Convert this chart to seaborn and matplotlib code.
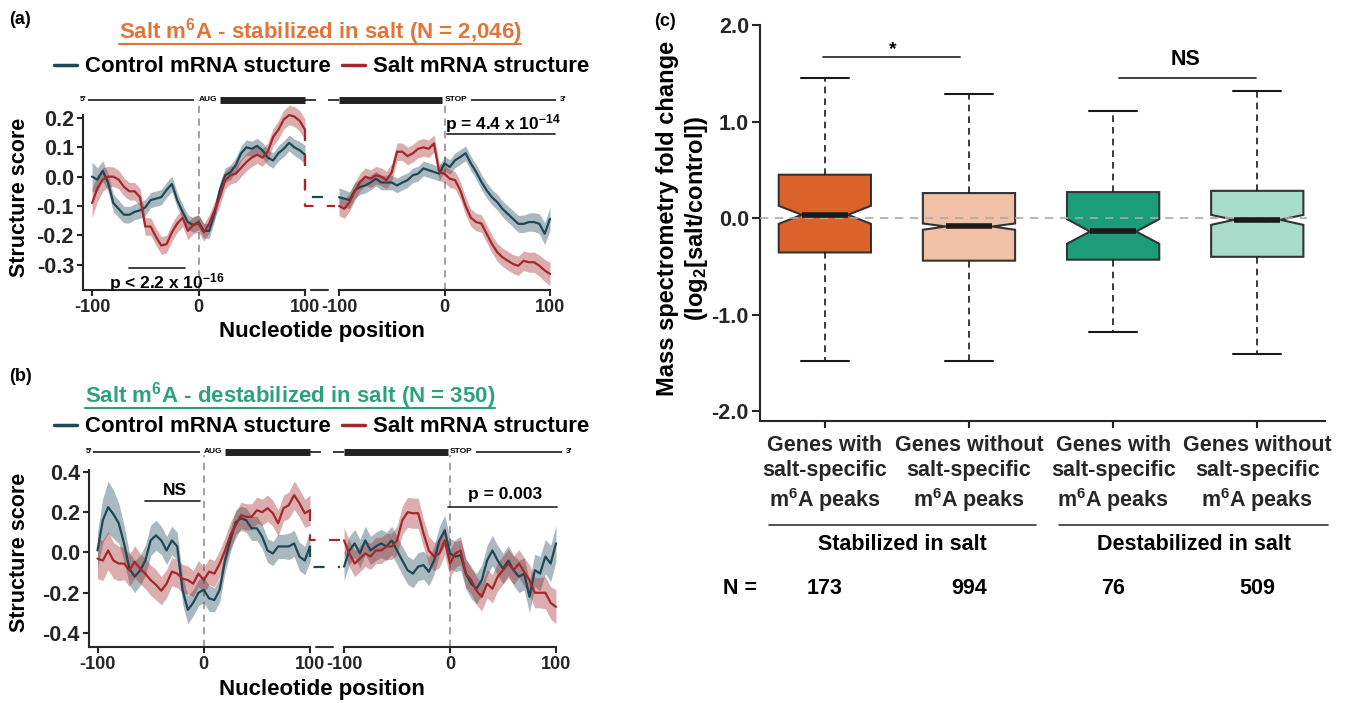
import numpy as np
import pandas as pd
import matplotlib
matplotlib.use("Agg")
import matplotlib.pyplot as plt
from matplotlib.lines import Line2D
from matplotlib.ticker import FormatStrFormatter
import seaborn as sns

# ---- data -------------------------------------------------------------
positions = list(range(-100, 101, 5))

# (a) salt m6A - stabilized in salt ; "5" = around AUG, "3" = around STOP
a5_ctrl = [0.0, -0.01, 0.02, -0.02, -0.09, -0.11, -0.13, -0.13, -0.12, -0.115, -0.105,
           -0.08, -0.075, -0.07, -0.045, -0.025, -0.08, -0.12, -0.155, -0.165, -0.155,
           -0.185, -0.185, -0.125, -0.045, 0.005, 0.015, 0.04, 0.08, 0.10, 0.095,
           0.105, 0.09, 0.065, 0.055, 0.08, 0.095, 0.115, 0.10, 0.09, 0.075]
a5_salt = [-0.09, -0.04, -0.01, 0.0, 0.0, -0.01, -0.035, -0.05, -0.05, -0.07, -0.17,
           -0.17, -0.205, -0.235, -0.23, -0.19, -0.16, -0.14, -0.185, -0.165, -0.16,
           -0.19, -0.16, -0.115, -0.07, -0.012, 0.005, 0.01, 0.03, 0.05, 0.065,
           0.075, 0.065, 0.085, 0.135, 0.16, 0.195, 0.21, 0.205, 0.19, 0.16]
a3_ctrl = [-0.07, -0.075, -0.08, -0.047, -0.035, -0.03, -0.02, -0.007, -0.02, -0.02, -0.02,
           -0.03, -0.02, -0.012, 0.005, 0.01, 0.028, 0.022, 0.016, 0.01, 0.045,
           0.033, 0.056, 0.067, 0.08, 0.045, 0.016, -0.018, -0.047, -0.07, -0.087,
           -0.11, -0.127, -0.144, -0.161, -0.161, -0.155, -0.155, -0.161, -0.195, -0.144]
a3_salt = [-0.10, -0.11, -0.087, -0.05, -0.018, 0.0, -0.007, 0.005, 0.0, -0.012, 0.015,
           0.085, 0.085, 0.07, 0.08, 0.095, 0.10, 0.095, 0.113, 0.016, 0.01,
           -0.007, -0.012, -0.047, -0.10, -0.14, -0.155, -0.16, -0.195, -0.23, -0.258,
           -0.275, -0.287, -0.298, -0.304, -0.287, -0.292, -0.292, -0.304, -0.32, -0.332]
a5_ctrl_se = [0.05, 0.04, 0.035, 0.03, 0.03, 0.03, 0.028, 0.028, 0.027, 0.027, 0.027,
              0.026, 0.026, 0.026, 0.026, 0.026, 0.026, 0.025, 0.025, 0.025, 0.025,
              0.025, 0.025, 0.025, 0.025, 0.025, 0.025, 0.025, 0.025, 0.026, 0.026,
              0.026, 0.026, 0.026, 0.026, 0.026, 0.027, 0.027, 0.028, 0.03, 0.032]
a5_salt_se = [0.05, 0.045, 0.04, 0.035, 0.033, 0.032, 0.031, 0.03, 0.03, 0.03, 0.03,
              0.03, 0.03, 0.03, 0.03, 0.03, 0.03, 0.03, 0.03, 0.03, 0.03,
              0.03, 0.03, 0.03, 0.03, 0.03, 0.03, 0.03, 0.03, 0.03, 0.03,
              0.03, 0.03, 0.03, 0.03, 0.031, 0.032, 0.033, 0.034, 0.035, 0.036]
a3_ctrl_se = [0.032, 0.03, 0.028, 0.027, 0.026, 0.025, 0.025, 0.025, 0.025, 0.025, 0.025,
              0.025, 0.025, 0.025, 0.025, 0.025, 0.025, 0.025, 0.025, 0.025, 0.025,
              0.025, 0.025, 0.025, 0.025, 0.025, 0.025, 0.026, 0.026, 0.026, 0.027,
              0.027, 0.028, 0.028, 0.029, 0.03, 0.031, 0.032, 0.034, 0.037, 0.04]
a3_salt_se = [0.033, 0.032, 0.031, 0.03, 0.03, 0.03, 0.03, 0.03, 0.03, 0.03, 0.03,
              0.03, 0.03, 0.03, 0.03, 0.03, 0.03, 0.03, 0.03, 0.03, 0.03,
              0.03, 0.03, 0.03, 0.03, 0.03, 0.03, 0.03, 0.03, 0.03, 0.031,
              0.031, 0.032, 0.032, 0.033, 0.033, 0.034, 0.035, 0.036, 0.038, 0.04]

# (b) salt m6A - destabilized in salt
b5_ctrl = [0.01, 0.16, 0.225, 0.19, 0.145, 0.045, -0.08, -0.12, -0.09, -0.04, 0.06,
           0.085, 0.06, 0.01, 0.06, 0.03, -0.185, -0.285, -0.25, -0.2, -0.185,
           -0.228, -0.236, -0.185, -0.04, 0.06, 0.15, 0.17, 0.16, 0.12, 0.12,
           0.078, 0.01, -0.005, 0.03, 0.03, 0.03, 0.045, -0.02, -0.04, 0.03]
b5_salt = [-0.03, -0.04, 0.01, -0.04, -0.055, -0.055, -0.09, -0.046, -0.08, -0.105, -0.137,
           -0.16, -0.19, -0.155, -0.095, -0.105, -0.13, -0.137, -0.155, -0.105, -0.137,
           -0.095, -0.105, -0.055, 0.01, 0.085, 0.135, 0.185, 0.177, 0.177, 0.21,
           0.2, 0.22, 0.195, 0.145, 0.22, 0.235, 0.285, 0.245, 0.195, 0.21]
b3_ctrl = [-0.07, 0.01, 0.045, -0.005, 0.06, 0.01, 0.03, 0.045, 0.03, 0.06, 0.01,
           -0.04, -0.088, -0.105, -0.07, -0.063, -0.096, -0.04, 0.06, 0.11, -0.005,
           -0.02, -0.013, -0.105, -0.155, -0.18, -0.137, -0.04, 0.01, -0.04, -0.08,
           -0.04, -0.088, -0.12, -0.105, -0.22, -0.088, -0.105, -0.02, -0.055, 0.045]
b3_salt = [0.06, -0.005, -0.055, -0.03, -0.005, -0.02, 0.01, 0.01, 0.03, 0.03, 0.06,
           0.16, 0.2, 0.195, 0.195, 0.095, 0.01, -0.02, -0.005, 0.06, -0.055,
           -0.005, 0.01, -0.105, -0.137, -0.19, -0.22, -0.155, -0.18, -0.12, -0.088,
           -0.055, -0.088, -0.055, -0.096, -0.137, -0.2, -0.2, -0.2, -0.25, -0.27]
b5_ctrl_se = [0.09, 0.11, 0.13, 0.12, 0.1, 0.09, 0.08, 0.08, 0.075, 0.075, 0.075,
              0.075, 0.07, 0.07, 0.07, 0.07, 0.07, 0.07, 0.065, 0.065, 0.065,
              0.065, 0.06, 0.06, 0.06, 0.06, 0.06, 0.06, 0.06, 0.06, 0.06,
              0.06, 0.06, 0.06, 0.06, 0.06, 0.065, 0.065, 0.07, 0.07, 0.075]
b5_salt_se = [0.1, 0.1, 0.095, 0.09, 0.085, 0.08, 0.08, 0.08, 0.075, 0.075, 0.075,
              0.075, 0.07, 0.07, 0.07, 0.07, 0.07, 0.07, 0.065, 0.065, 0.065,
              0.065, 0.065, 0.065, 0.065, 0.065, 0.065, 0.065, 0.065, 0.065, 0.065,
              0.065, 0.065, 0.065, 0.065, 0.065, 0.065, 0.07, 0.07, 0.07, 0.075]
b3_ctrl_se = [0.07, 0.07, 0.07, 0.07, 0.07, 0.07, 0.07, 0.07, 0.07, 0.07, 0.07,
              0.07, 0.07, 0.07, 0.07, 0.07, 0.07, 0.07, 0.07, 0.075, 0.075,
              0.075, 0.075, 0.075, 0.075, 0.075, 0.075, 0.075, 0.075, 0.075, 0.075,
              0.075, 0.075, 0.08, 0.08, 0.08, 0.08, 0.085, 0.085, 0.09, 0.09]
b3_salt_se = [0.065, 0.065, 0.065, 0.065, 0.065, 0.065, 0.065, 0.065, 0.065, 0.065, 0.07,
              0.07, 0.075, 0.075, 0.075, 0.07, 0.07, 0.07, 0.07, 0.07, 0.07,
              0.07, 0.07, 0.07, 0.07, 0.07, 0.07, 0.07, 0.07, 0.07, 0.07,
              0.07, 0.07, 0.07, 0.07, 0.075, 0.075, 0.075, 0.08, 0.08, 0.085]

# (c) mass spectrometry fold change boxes
box_labels = ["Genes with\nsalt-specific\nm$^{6}$A peaks", "Genes without\nsalt-specific\nm$^{6}$A peaks",
              "Genes with\nsalt-specific\nm$^{6}$A peaks", "Genes without\nsalt-specific\nm$^{6}$A peaks"]
box_groups = ["Stabilized in salt", "Destabilized in salt"]
box_n = [173, 994, 76, 509]
box_med = [0.035, -0.086, -0.138, -0.017]
box_q1 = [-0.355, -0.44, -0.43, -0.40]
box_q3 = [0.45, 0.26, 0.27, 0.283]
box_lo = [-1.48, -1.48, -1.18, -1.41]
box_hi = [1.45, 1.286, 1.11, 1.317]
box_cilo = [-0.059, -0.12, -0.265, -0.069]
box_cihi = [0.128, -0.055, -0.01, 0.034]

# ---- style ------------------------------------------------------------
CTRL = "#1d4858"
SALT = "#a3282a"
ORANGE = "#e0743a"
GREEN = "#2aa37c"
box_colors = ["#d9632b", "#f0c1a6", "#1b9e77", "#a8dccb"]

sns.set_theme(style="ticks")
plt.rcParams["font.family"] = ["Liberation Sans", "DejaVu Sans"]
plt.rcParams["font.weight"] = "bold"
plt.rcParams["mathtext.fontset"] = "custom"
plt.rcParams["mathtext.rm"] = "Liberation Sans:bold"
plt.rcParams["mathtext.it"] = "Liberation Sans:bold"
plt.rcParams["mathtext.bf"] = "Liberation Sans:bold"
plt.rcParams["axes.unicode_minus"] = False
plt.rcParams["axes.linewidth"] = 1.5
plt.rcParams["text.color"] = "black"

W, H = 1349, 703
fig = plt.figure(figsize=(W / 100, H / 100), dpi=100)


def add_ax(l, t, r, b):
    return fig.add_axes([l / W, 1 - b / H, (r - l) / W, (b - t) / H])


def ftext(x, y, s, **kw):
    return fig.text(x / W, 1 - y / H, s, **kw)


def profile(ax, ctrl, salt, ctrl_se, salt_se, xlim, ylim, left, gene_y):
    for y, se, c in ((ctrl, ctrl_se, CTRL), (salt, salt_se, SALT)):
        y = np.array(y)
        se = np.array(se)
        ax.fill_between(positions, y - se, y + se, color=c, alpha=0.38, lw=0)
    df = pd.DataFrame({"pos": positions * 2, "score": ctrl + salt,
                       "cond": ["Control"] * len(ctrl) + ["Salt"] * len(salt)})
    sns.lineplot(data=df, x="pos", y="score", hue="cond", palette=[CTRL, SALT],
                 legend=False, errorbar=None, ax=ax, lw=1.6)
    ax.set_xlim(*xlim)
    ax.set_ylim(*ylim)
    ax.set_xlabel("")
    ax.set_ylabel("")
    ax.set_xticks([-100, 0, 100])
    ax.spines[["top", "right"]].set_visible(False)
    ax.tick_params(length=4.5, width=1.5, labelsize=15.5, pad=2)
    ax.tick_params(axis="x", labelsize=13)
    ax.plot([0, 0], [ylim[0], gene_y - 0.015 * (ylim[1] - ylim[0])], color="#9a9a9a",
            ls=(0, (4, 3)), lw=1.3, zorder=0, clip_on=False)
    thin = dict(color="k", lw=1.2, clip_on=False, solid_capstyle="butt")
    thick = dict(color="#222222", lw=5, clip_on=False, solid_capstyle="butt")
    if left:
        ax.spines["bottom"].set_bounds(xlim[0], 100)
        ax.yaxis.set_major_formatter(FormatStrFormatter("%.1f"))
        ax.plot([-104, -4], [gene_y, gene_y], **thin)
        ax.text(-105, gene_y, "5'", ha="right", va="center", fontsize=6)
        ax.text(0, gene_y, "AUG", ha="left", va="center", fontsize=6)
        ax.plot([20, 100], [gene_y, gene_y], **thick)
        ax.plot([100, 110], [gene_y, gene_y], **thin)
        ax.plot([106, 122], [ylim[0], ylim[0]], color="#333333", lw=1.5, clip_on=False)
    else:
        ax.spines["left"].set_visible(False)
        ax.set_yticks([])
        ax.spines["bottom"].set_bounds(-100, 100)
        ax.plot([-110, -100], [gene_y, gene_y], **thin)
        ax.plot([-100, -2], [gene_y, gene_y], **thick)
        ax.text(0, gene_y, "STOP", ha="left", va="center", fontsize=6)
        ax.plot([25, 106], [gene_y, gene_y], **thin)
        ax.text(109, gene_y, "3'", ha="left", va="center", fontsize=6)


def connect(ax, left_series, right_series, color, x_right):
    ax.plot([100, 100, x_right], [left_series[-1], right_series[0], right_series[0]],
            color=color, lw=1.6, ls=(0, (5, 6)), clip_on=False)


# ---- panel (a) --------------------------------------------------------
ya = (-0.385, 0.27)
ax_a1 = add_ax(83, 97.5, 309.3, 289.5)
ax_a2 = add_ax(334.8, 97.5, 554.2, 289.5)
profile(ax_a1, a5_ctrl, a5_salt, a5_ctrl_se, a5_salt_se, (-108.5, 104), ya, True, 0.263)
profile(ax_a2, a3_ctrl, a3_salt, a3_ctrl_se, a3_salt_se, (-104, 104), ya, False, 0.263)
ax_a1.set_yticks([-0.3, -0.2, -0.1, 0.0, 0.1, 0.2])
ax_a1.spines["left"].set_bounds(ya[0], 0.212)
connect(ax_a1, a5_ctrl, a3_ctrl, CTRL, 131.5)
connect(ax_a1, a5_salt, a3_salt, SALT, 131.5)
ax_a1.plot([-65, -13], [-0.312, -0.312], color="#333333", lw=1.3)
ax_a1.text(-30, -0.36, "p < 2.2 x 10$^{-16}$", ha="center", va="center", fontsize=12.5)
ax_a2.plot([2, 105], [0.145, 0.145], color="#333333", lw=1.3, clip_on=False)
ax_a2.text(55, 0.182, "p = 4.4 x 10$^{-14}$", ha="center", va="center", fontsize=12.5)

# ---- panel (b) --------------------------------------------------------
yb = (-0.47, 0.52)
ax_b1 = add_ax(89, 447.8, 314.3, 647.1)
ax_b2 = add_ax(339.8, 447.8, 560.2, 647.1)
profile(ax_b1, b5_ctrl, b5_salt, b5_ctrl_se, b5_salt_se, (-108, 104), yb, True, 0.5)
profile(ax_b2, b3_ctrl, b3_salt, b3_ctrl_se, b3_salt_se, (-104, 104), yb, False, 0.5)
ax_b1.set_yticks([-0.4, -0.2, 0.0, 0.2, 0.4])
ax_b1.spines["left"].set_bounds(yb[0], 0.41)
connect(ax_b1, b5_ctrl, b3_ctrl, CTRL, 131.5)
connect(ax_b1, b5_salt, b3_salt, SALT, 131.5)
ax_b1.plot([-55, -4], [0.255, 0.255], color="#333333", lw=1.3)
ax_b1.text(-27, 0.31, "NS", ha="center", va="center", fontsize=12.5)
ax_b2.plot([-2, 101], [0.224, 0.224], color="#333333", lw=1.3, clip_on=False)
ax_b2.text(52, 0.29, "p = 0.003", ha="center", va="center", fontsize=12.5)

# shared text for (a) and (b)
for y_lab, y_x, y_title, title, tcolor, y_leg, y_tag, tag in (
        (197, 332, 32, "Salt m$^{6}$A - stabilized in salt (N = 2,046)", ORANGE, 67, 20, "(a)"),
        (552, 690, 396, "Salt m$^{6}$A - destabilized in salt (N = 350)", GREEN, 427, 377, "(b)")):
    ftext(20, y_lab, "Structure score", rotation=90, ha="center", va="center", fontsize=15.5)
    ftext(322, y_x, "Nucleotide position", ha="center", va="center", fontsize=16)
    ftext(20, y_tag, tag, ha="center", va="center", fontsize=13)
    t = ftext(320 if tag == "(a)" else 290, y_title, title, color=tcolor, ha="center",
              va="center", fontsize=16)
    t.set_gid("title")
    fig.legend([Line2D([], [], color=CTRL, lw=2.5), Line2D([], [], color=SALT, lw=2.5)],
               ["Control mRNA stucture", "Salt mRNA structure"], loc="center",
               bbox_to_anchor=(322 / W, 1 - y_leg / H), ncol=2, frameon=False,
               prop={"size": 16, "weight": "bold"}, handlelength=1.0, handletextpad=0.4,
               columnspacing=0.5, borderaxespad=0, borderpad=0)

# ---- panel (c) --------------------------------------------------------
axc = add_ax(760, 25, 1325, 421)
stats = [dict(med=m, q1=a, q3=b, whislo=lo, whishi=hi, cilo=cl, cihi=ch, fliers=[])
         for m, a, b, lo, hi, cl, ch in zip(box_med, box_q1, box_q3, box_lo, box_hi,
                                              box_cilo, box_cihi)]
bp = axc.bxp(stats, positions=range(4), widths=0.64, capwidths=0.33, shownotches=True,
             patch_artist=True, showfliers=False,
             boxprops=dict(edgecolor="#333333", lw=1.5),
             whiskerprops=dict(color="k", lw=1.2, ls=(0, (4, 3))),
             capprops=dict(color="k", lw=1.5),
             medianprops=dict(color="k", lw=4, zorder=4))
for patch, c in zip(bp["boxes"], box_colors):
    patch.set_facecolor(c)
axc.axhline(0, xmin=0, xmax=0.968, color="#aaaaaa", ls=(0, (5, 4)), lw=1.2, zorder=3)
axc.set_xlim(-0.45, 3.47)
axc.set_ylim(-2.1, 2.0)
axc.set_yticks([-2, -1, 0, 1, 2])
axc.yaxis.set_major_formatter(FormatStrFormatter("%.1f"))
axc.set_xticks(range(4))
axc.set_xticklabels(box_labels, fontsize=15.5, linespacing=1.25)
axc.spines[["top", "right"]].set_visible(False)
axc.tick_params(axis="y", length=6, width=1.5, labelsize=15.5, pad=2)
axc.tick_params(axis="x", length=5, width=1.5, pad=5)

axc.plot([-0.01, 0.94], [1.67, 1.67], color="#333333", lw=1.3)
axc.text(0.47, 1.75, "*", ha="center", va="center", fontsize=14)
axc.plot([2.04, 2.99], [1.45, 1.45], color="#333333", lw=1.3)
axc.text(2.5, 1.64, "NS", ha="center", va="center", fontsize=15.5)

tr = axc.get_xaxis_transform()
for x0, x1, xm, g in ((-0.39, 1.465, 0.54, box_groups[0]), (1.625, 3.49, 2.56, box_groups[1])):
    axc.plot([x0, x1], [-0.263, -0.263], transform=tr, color="#333333", lw=1.2, clip_on=False)
    axc.text(xm, -0.313, g, transform=tr, ha="center", va="center", fontsize=15.5)
axc.text(-0.59, -0.422, "N =", transform=tr, ha="center", va="center", fontsize=15.5)
for i, n in enumerate(box_n):
    axc.text(i, -0.422, str(n), transform=tr, ha="center", va="center", fontsize=15.5)

ftext(683, 218, "Mass spectrometry fold change\n(log$_{2}$[salt/control])", rotation=90,
      ha="center", va="center", fontsize=17, linespacing=1.2)
ftext(665, 22, "(c)", ha="center", va="center", fontsize=13)

# underline the two coloured titles
fig.canvas.draw()
renderer = fig.canvas.get_renderer()
for t in fig.texts:
    if t.get_gid() == "title":
        bb = t.get_window_extent(renderer)
        fig.add_artist(Line2D([bb.x0 / W, bb.x1 / W], [(bb.y0 + 3) / H] * 2,
                              transform=fig.transFigure, color=t.get_color(), lw=1.5))

fig.savefig("out.png", dpi=100)
